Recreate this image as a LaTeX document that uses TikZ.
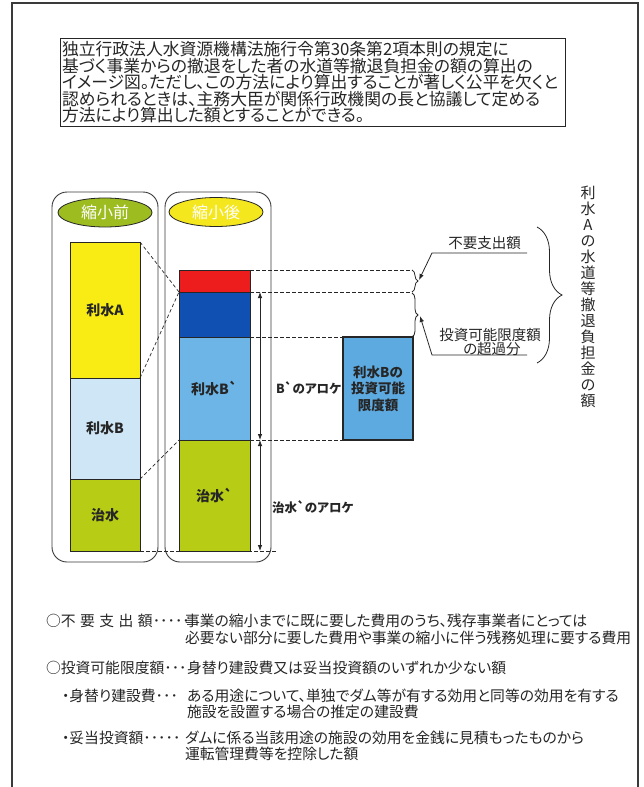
\documentclass[tikz,border=0pt]{standalone}
\usepackage{fontspec}
\newfontfamily\jp{Noto Sans CJK JP}[Ligatures=TeXOff,RawFeature=+palt]
\newfontfamily\jpm{Noto Sans CJK JP}[Ligatures=TeXOff]
\usetikzlibrary{arrows.meta,decorations.pathreplacing,shapes.geometric}
\definecolor{cyellow}{HTML}{F8EC14}
\definecolor{clblue}{HTML}{CFE6F6}
\definecolor{cgreen}{HTML}{B7CD15}
\definecolor{cred}{HTML}{EE1D1D}
\definecolor{cdblue}{HTML}{1150B3}
\definecolor{cmblue}{HTML}{6CB5E6}
\definecolor{cegreen}{HTML}{9DBC20}
\definecolor{ceyellow}{HTML}{F5E71E}
\definecolor{cbbox}{HTML}{5DAAE0}
\definecolor{cink}{HTML}{262626}
\definecolor{cframe}{HTML}{3A3A3A}
\begin{document}
\begin{tikzpicture}[x=1pt,y=-1pt,
  every node/.style={inner sep=0pt, outer sep=0pt, text=cink},
  bar/.style={draw=cink, line width=0.7pt, minimum width=70pt, font=\jp\bfseries\fontsize{14}{14}\selectfont},
  rbox/.style={draw=cframe, line width=0.9pt, rounded corners=15pt, minimum width=106pt, minimum height=370pt},
  ell/.style={ellipse, draw=cink, line width=0.8pt, minimum width=94pt, minimum height=29pt, text=white, font=\jp\fontsize{16}{16}\selectfont},
  dashln/.style={draw=cink, line width=0.7pt, dash pattern=on 3.5pt off 2.5pt},
  note/.style={anchor=base west, font=\jp\fontsize{14.8}{14.8}\selectfont},
  ttl/.style={anchor=base west, font=\jp\fontsize{16.8}{16.8}\selectfont},
  lbl/.style={font=\jp\fontsize{14.5}{14.5}\selectfont},
  tipln/.style={draw=cink, line width=0.8pt, -{Latex[length=6pt,width=4.5pt]}},
  dbl/.style={draw=cink, line width=0.8pt, {Latex[length=6pt,width=4.5pt]}-{Latex[length=6pt,width=4.5pt]}},
  brc/.style={decorate, draw=cink, line width=0.8pt}
]
\useasboundingbox (0,0) rectangle (644,787);
\fill[white] (0,0) rectangle (644,787);
% outer frame
\draw[cframe, line width=1.1pt] (12,787) -- (12,3) -- (638,3) -- (638,787);
% title
\node[draw=cink, line width=0.8pt, minimum width=505pt, minimum height=88pt] (T) at (312.5,82) {};
\node[ttl] (t1) at (62,55.5) {独立行政法人水資源機構法施行令第30条第2項本則の規定に};
\node[ttl] (t2) at (62,72) {基づく事業からの撤退をした者の水道等撤退負担金の額の算出の};
\node[ttl] (t3) at (62,88.5) {イメージ図。ただし、この方法により算出することが著しく公平を欠くと};
\node[ttl] (t4) at (62,105) {認められるときは、主務大臣が関係行政機関の長と協議して定める};
\node[ttl] (t5) at (62,121.5) {方法により算出した額とすることができる。};
% rounded boxes
\node[rbox] (L) at (105,377) {};
\node[rbox] (Rb) at (218,377) {};
% coordinates
\coordinate (s1a) at (412,270);
\coordinate (s1b) at (412,292);
\coordinate (s2a) at (412,293);
\coordinate (s2b) at (412,337);
\coordinate (dend) at (277,551);
% bars
\node[bar, fill=cyellow, minimum height=136pt] (A) at (105,310) {利水A};
\node[bar, fill=clblue, minimum height=101pt] (B) at (105,428.5) {利水B};
\node[bar, fill=cgreen, minimum height=72pt] (C) at (105,515) {治水};
\node[bar, fill=cred, minimum width=71pt, minimum height=22pt] (R) at (214.5,281) {};
\node[bar, fill=cdblue, minimum width=71pt, minimum height=45pt] (D) at (214.5,314.5) {};
\node[bar, fill=cmblue, minimum width=71pt, minimum height=103pt] (Bp) at (214.5,388.5) {利水B`};
\node[bar, fill=cgreen, minimum width=71pt, minimum height=111pt] (Cp) at (214.5,495.5) {治水`};
% B box
\node[draw=cink, line width=1.6pt, fill=cbbox, minimum width=70pt, minimum height=103pt, align=center, font=\jp\bfseries\fontsize{13.5}{16.5}\selectfont] (BB) at (378,388.5) {利水Bの\\投資可能\\限度額};
% dashed lines
\draw[dashln] (R.north east) -- (s1a);
\draw[dashln] (R.south east) -- (s1b);
\draw[dashln] (D.south east) -- (BB.north west);
\draw[dashln] (Bp.south east) -- (BB.south west);
\draw[dashln] (C.south east) -- (dend);
\draw[dashln] (A.north east) -- (R.south west);
\draw[dashln] (A.south east) -- (R.south west);
\draw[dashln] (B.south east) -- (Cp.north west);
% ellipses
\node[ell, fill=cegreen] (eL) at (105,212.5) {縮小前};
\node[ell, fill=ceyellow] (eR) at (216,212) {縮小後};
% allocation arrows
\coordinate (a1) at (260,292);
\coordinate (a2) at (260,440);
\coordinate (a3) at (260,551);
\draw[dbl] (a1) -- (a2);
\draw[dbl] (a2) -- (a3);
\node[anchor=west, font=\jp\bfseries\fontsize{12.5}{12.5}\selectfont] (lb1) at (276,388) {B`のアロケ};
\node[anchor=west, font=\jp\bfseries\fontsize{12.5}{12.5}\selectfont] (lb2) at (272,507) {治水`のアロケ};
% small braces
\draw[brc, decoration={brace, amplitude=6pt}] (s1a) -- (s1b);
\draw[brc, decoration={brace, amplitude=6pt}] (s2a) -- (s2b);
% labels with leaders
\node[lbl] (u1) at (484.5,243) {不要支出額};
\node[lbl] (u2) at (490,335) {投資可能限度額};
\node[lbl] (u3) at (492,349) {の超過分};
\coordinate (l1a) at (527,253);
\coordinate (l1b) at (432,253);
\coordinate (l1c) at (419,280);
\coordinate (l2a) at (527,355);
\coordinate (l2b) at (432,355);
\coordinate (l2c) at (420,316);
\draw[tipln] (l1a) -- (l1b) -- (l1c);
\draw[tipln] (l2a) -- (l2b) -- (l2c);
% big brace
\coordinate (g1) at (537,227);
\coordinate (g2) at (537,363);
\draw[brc, decoration={brace, amplitude=25pt}] (g1) -- (g2);
% vertical text
\foreach \c [count=\i from 0] in {利,水,A,の,水,道,等,撤,退,負,担,金,の,額}
  \node[font=\jpm\fontsize{15}{15}\selectfont] (v\i) at (588,{193+16*\i}) {\c};
% notes
\node[note] (n1a) at (46,626) {○不\hspace{4.5pt}要\hspace{4.5pt}支\hspace{4.5pt}出\hspace{4.5pt}額};
\node[note] (n1b) at (n1a.base east) {･････};
\node[note] (n1c) at (185,626) {事業の縮小までに既に要した費用のうち、残存事業者にとっては};
\node[note] (n1d) at (185,643) {必要ない部分に要した費用や事業の縮小に伴う残務処理に要する費用};
\node[note] (n2a) at (46,673) {○投資可能限度額･･･};
\node[note] (n2c) at (187,673) {身替り建設費又は妥当投資額のいずれか少ない額};
\node[note] (n3a) at (62,701.5) {・身替り建設費･･･};
\node[note] (n3c) at (187,701.5) {ある用途について、単独でダム等が有する効用と同等の効用を有する};
\node[note] (n3d) at (187,717.5) {施設を設置する場合の推定の建設費};
\node[note] (n4a) at (62,743.5) {・妥当投資額･････};
\node[note] (n4c) at (185,743.5) {ダムに係る当該用途の施設の効用を金銭に見積もったものから};
\node[note] (n4d) at (185,759.5) {運転管理費等を控除した額};
\end{tikzpicture}
\end{document}
